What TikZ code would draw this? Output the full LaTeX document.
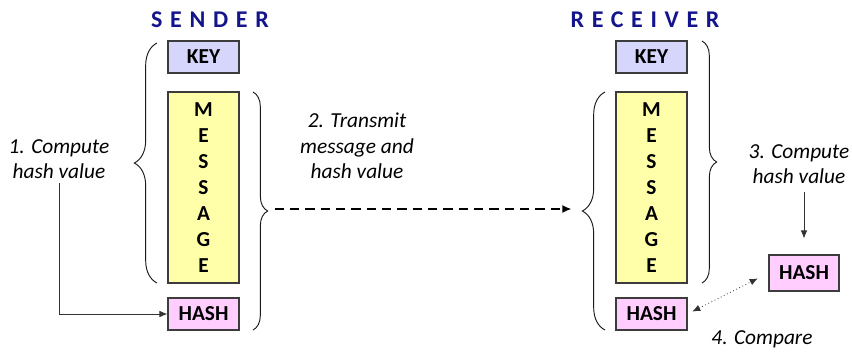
\documentclass[tikz,border=0pt]{standalone}
\usepackage{fontspec}
\setmainfont{Carlito}
\usetikzlibrary{arrows.meta, decorations.pathreplacing, positioning}

\definecolor{keyblue}{RGB}{214,214,252}
\definecolor{msgyellow}{RGB}{255,255,170}
\definecolor{hashpink}{RGB}{255,206,255}
\definecolor{titleblue}{RGB}{20,20,140}
\definecolor{boxgray}{RGB}{60,60,60}

\tikzset{
    box/.style={draw=boxgray, line width=0.8pt, minimum width=53.25pt, inner sep=0pt,
        font=\fontsize{16}{19.5}\selectfont\bfseries, align=center},
    keybox/.style={box, fill=keyblue, minimum height=24pt},
    msgbox/.style={box, fill=msgyellow, minimum height=143.25pt},
    hashbox/.style={box, fill=hashpink, minimum height=24pt},
    title/.style={text=titleblue, font=\fontsize{18}{20}\selectfont\bfseries\addfontfeatures{LetterSpace=32}},
    note/.style={font=\fontsize{16}{19}\selectfont\itshape, align=center, inner sep=1pt},
    bracket/.style={decorate, line width=0.7pt, draw=black!90},
}

\begin{document}
\begin{tikzpicture}[x=0.75pt,y=-0.75pt]
        % 画布大小
        \useasboundingbox (0,0) rectangle (852,351);
        % 两列的中心
        \def\sx{203.5}
        \def\rx{651.5}
        % 大括号的幅度
        \def\bigamp{17pt}
        \def\smallamp{11pt}
        % 标题
        \node (sender) at (210,20) [title] {SENDER};
        \node (receiver) at (645,20) [title] {RECEIVER};
        % 发送方的方框
        \node (keyS) at (\sx,57) [keybox] {KEY};
        \node (msgS) at (\sx,187.5) [msgbox] {M\\E\\S\\S\\A\\G\\E};
        \node (hashS) at (\sx,314) [hashbox] {HASH};
        % 接收方的方框
        \node (keyR) at (\rx,57) [keybox] {KEY};
        \node (msgR) at (\rx,187.5) [msgbox] {M\\E\\S\\S\\A\\G\\E};
        \node (hashR) at (\rx,314) [hashbox] {HASH};
        \node (hashC) at (804,273) [hashbox, minimum width=52.5pt, minimum height=27pt] {HASH};
        % 大括号
        \draw[bracket, decoration={brace, amplitude=\bigamp}] (157,283) -- (157,43);
        \draw[bracket, decoration={brace, amplitude=\smallamp}] (253,92) -- (253,330);
        \draw[bracket, decoration={brace, amplitude=\bigamp}] (605,330) -- (605,92);
        \draw[bracket, decoration={brace, amplitude=\smallamp}] (702,41) -- (702,283);
        % 括号尖端
        \coordinate (sTip) at (268,209);
        \coordinate (rTip) at (581,209);
        % 说明文字
        \node (step1) at (59,159) [note] {1. Compute\\hash value};
        \node (step2) at (357,146) [note] {2. Transmit\\message and\\hash value};
        \node (step3) at (799,164) [note] {3. Compute\\hash value};
        \node (step4) at (762,339) [note] {4. Compare};
        % 箭头
        \draw[-{Latex[length=6pt,width=5pt]}, draw=black!80, line width=0.7pt, shorten <=2pt]
            (step1.south) |- (hashS.west);
        \draw[-{Latex[length=7pt,width=6pt]}, line width=1.8pt, dash pattern=on 7pt off 4.5pt,
            shorten <=5pt, shorten >=7pt] (sTip) -- (rTip);
        \draw[-{Latex[length=6pt,width=5pt]}, draw=black!80, line width=0.7pt,
            shorten <=5pt, shorten >=12pt] (step3.south -| hashC.north) -- (hashC.north);
        \draw[{Latex[length=6pt,width=5pt]}-{Latex[length=6pt,width=5pt]}, draw=black!80,
            line width=0.6pt, dotted, shorten <=4pt, shorten >=9pt] (hashR.east) -- (hashC.west);
    \end{tikzpicture}
\end{document}
